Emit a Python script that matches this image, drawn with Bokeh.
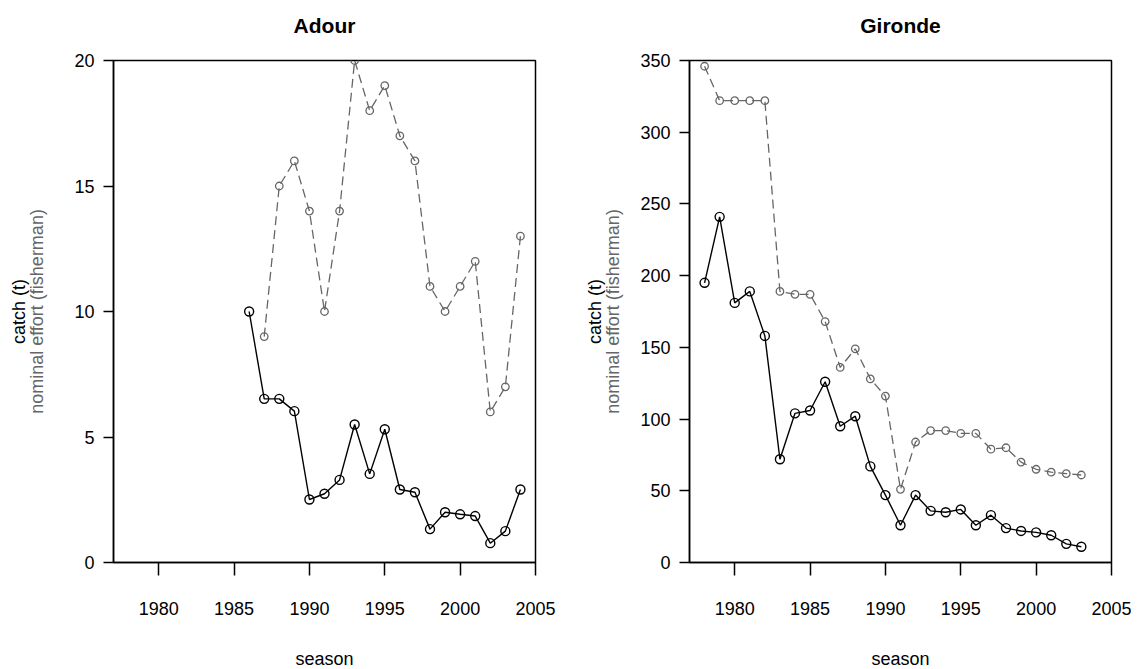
from bokeh.plotting import figure
from bokeh.models import Range1d, FixedTicker, LinearAxis, Title
from bokeh.layouts import row
from bokeh.embed import file_html
from bokeh.resources import INLINE

# ---- data ----
adour_catch_years = list(range(1986, 2005))
adour_catch = [10.0, 6.52, 6.52, 6.03, 2.51, 2.74, 3.29, 5.50, 3.53, 5.31,
               2.91, 2.80, 1.33, 2.00, 1.92, 1.85, 0.77, 1.25, 2.91]
adour_effort_years = list(range(1987, 2005))
adour_effort = [9, 15, 16, 14, 10, 14, 20, 18, 19, 17, 16, 11, 10, 11, 12, 6, 7, 13]

gironde_years = list(range(1978, 2004))
gironde_catch = [195, 241, 181, 189, 158, 72, 104, 106, 126, 95, 102, 67, 47,
                 26, 47, 36, 35, 37, 26, 33, 24, 22, 21, 19, 13, 11]
gironde_effort = [346, 322, 322, 322, 322, 189, 187, 187, 168, 136, 149, 128, 116,
                  51, 84, 92, 92, 90, 90, 79, 80, 70, 65, 63, 62, 61]

x_ticks = [1980, 1985, 1990, 1995, 2000, 2005]
adour_y_ticks = [0, 5, 10, 15, 20]
gironde_y_ticks = [0, 50, 100, 150, 200, 250, 300, 350]

FONT = "Liberation Sans"
GRAY = "#666666"


def make_panel(title, cyears, cvals, eyears, evals, yticks, ymax,
               border_left, border_right, label_standoff):
    p = figure(output_backend="svg", toolbar_location=None,
               frame_width=422, frame_height=502,
               min_border_left=border_left, min_border_right=border_right,
               min_border_top=60, min_border_bottom=106,
               x_range=Range1d(1977, 2005), y_range=Range1d(0, ymax))
    p.title = None
    spacer = Title(text=" ", text_font=FONT, text_font_size="10px", standoff=0)
    p.add_layout(spacer, "above")
    t = Title(text=title, align="center", text_font=FONT,
              text_color="black", text_font_size="21px",
              text_font_style="bold", standoff=21)
    p.add_layout(t, "above")
    p.grid.visible = False
    p.outline_line_color = "black"
    p.outline_line_width = 1.5
    p.background_fill_color = "white"
    p.border_fill_color = "white"

    xa = p.xaxis[0]
    xa.ticker = FixedTicker(ticks=x_ticks)
    xa.major_tick_out = 13
    xa.major_tick_in = 0
    xa.minor_tick_line_color = None
    xa.axis_line_width = 1.5
    xa.major_tick_line_width = 1.5
    xa.major_label_text_font = FONT
    xa.major_label_text_font_size = "18px"
    xa.major_label_text_color = "black"
    xa.major_label_standoff = 26
    xa.axis_label = "season"
    xa.axis_label_text_font = FONT
    xa.axis_label_text_font_size = "18px"
    xa.axis_label_text_font_style = "normal"
    xa.axis_label_text_color = "black"
    xa.axis_label_standoff = 31

    ya = p.yaxis[0]
    ya.ticker = FixedTicker(ticks=yticks)
    ya.major_tick_out = 10
    ya.major_tick_in = 0
    ya.minor_tick_line_color = None
    ya.axis_line_width = 1.5
    ya.major_tick_line_width = 1.5
    ya.major_label_text_font = FONT
    ya.major_label_text_font_size = "18px"
    ya.major_label_text_color = "black"
    ya.major_label_standoff = 9
    ya.major_label_orientation = "horizontal"
    ya.axis_label = "nominal effort (fisherman)"
    ya.axis_label_text_font = FONT
    ya.axis_label_text_font_size = "18px"
    ya.axis_label_text_font_style = "normal"
    ya.axis_label_text_color = GRAY
    ya.axis_label_standoff = label_standoff

    extra = LinearAxis(ticker=FixedTicker(ticks=[]), axis_label="catch (t)",
                       axis_line_color=None, major_tick_line_color=None,
                       minor_tick_line_color=None,
                       axis_label_text_font=FONT, axis_label_text_font_size="18px",
                       axis_label_text_font_style="normal",
                       axis_label_text_color="black", axis_label_standoff=-4)
    p.add_layout(extra, "left")

    # effort (gray dashed)
    p.line(eyears, evals, line_color=GRAY, line_width=1.3, line_dash="9 5")
    p.scatter(eyears, evals, marker="circle", size=7.5, line_color=GRAY,
              line_width=1.3, fill_color=None)
    # catch (black solid)
    p.line(cyears, cvals, line_color="black", line_width=1.4)
    p.scatter(cyears, cvals, marker="circle", size=9, line_color="black",
              line_width=1.4, fill_color=None)
    return p


p1 = make_panel("Adour", adour_catch_years, adour_catch, adour_effort_years,
                adour_effort, adour_y_ticks, 20, 113, 46, 24)
p2 = make_panel("Gironde", gironde_years, gironde_catch, gironde_years,
                gironde_effort, gironde_y_ticks, 350, 105, 20, 14)

layout = row(p1, p2)
open("out.html", "w").write(file_html(layout, INLINE))
